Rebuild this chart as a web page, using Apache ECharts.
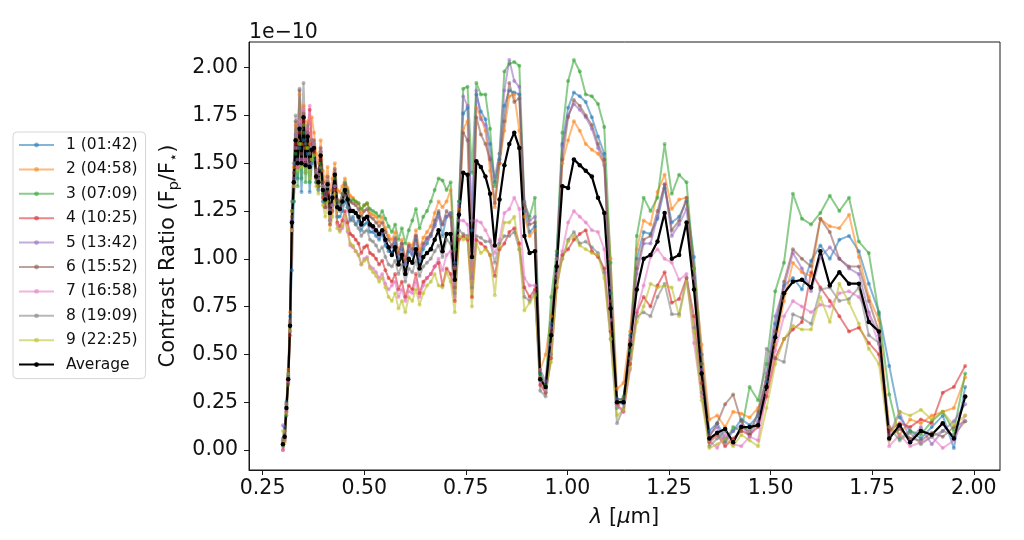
<!DOCTYPE html>
<html>
<head>
<meta charset="utf-8">
<title>Contrast ratio per epoch</title>
<script src="https://cdn.jsdelivr.net/npm/echarts@6.0.0/dist/echarts.min.js"></script>
<style>
    html, body { margin: 0; padding: 0; background: #fff; }
    #main { width: 1024px; height: 540px; }
</style>
</head>
<body>
<div id="main"></div>
<script>
// wavelength grid in um (one point per spectral bin)
const wavelengths = [
    0.3000, 0.3043, 0.3086, 0.3130, 0.3175, 0.3221, 0.3267, 0.3313, 0.3361, 0.3409,
    0.3457, 0.3507, 0.3557, 0.3608, 0.3659, 0.3711, 0.3764, 0.3818, 0.3873, 0.3928,
    0.3984, 0.4041, 0.4099, 0.4157, 0.4217, 0.4277, 0.4338, 0.4400, 0.4463, 0.4527,
    0.4591, 0.4657, 0.4723, 0.4791, 0.4859, 0.4929, 0.4999, 0.5070, 0.5143, 0.5216,
    0.5291, 0.5366, 0.5443, 0.5521, 0.5600, 0.5680, 0.5761, 0.5843, 0.5927, 0.6011,
    0.6097, 0.6184, 0.6273, 0.6362, 0.6453, 0.6545, 0.6639, 0.6734, 0.6830, 0.6927,
    0.7026, 0.7127, 0.7229, 0.7332, 0.7437, 0.7543, 0.7651, 0.7760, 0.7871, 0.7983,
    0.8097, 0.8213, 0.8330, 0.8449, 0.8570, 0.8692, 0.8817, 0.8942, 0.9070, 0.9200,
    0.9331, 0.9464, 0.9600, 0.9737, 0.9876, 1.0017, 1.0160, 1.0305, 1.0452, 1.0602,
    1.0753, 1.0907, 1.1063, 1.1221, 1.1381, 1.1544, 1.1708, 1.1876, 1.2045, 1.2217,
    1.2392, 1.2569, 1.2749, 1.2931, 1.3115, 1.3303, 1.3493, 1.3686, 1.3881, 1.4079,
    1.4280, 1.4484, 1.4691, 1.4901, 1.5114, 1.5330, 1.5549, 1.5771, 1.5996, 1.6225,
    1.6457, 1.6692, 1.6930, 1.7172, 1.7417, 1.7666, 1.7919, 1.8175, 1.8434, 1.8698,
    1.8965, 1.9236, 1.9510, 1.9789
];

// contrast ratio, in units of 1e-10
const s1 = [
    0.06,0.12,0.25,0.40,0.70,0.94,1.30,1.50,1.42,1.58, 1.35,1.62,1.45,1.55,1.35,1.50,1.52,1.40,1.36,1.47,
    1.30,1.27,1.35,1.20,1.28,1.38,1.22,1.22,1.25,1.30, 1.27,1.20,1.22,1.18,1.20,1.15,1.18,1.19,1.14,1.14,
    1.12,1.10,1.13,1.07,1.04,1.03,1.08,1.00,1.05,0.97, 1.04,1.02,1.10,0.99,1.05,1.08,1.12,1.18,1.24,1.12,
    1.22,1.24,0.98,1.30,1.76,1.79,1.15,1.86,1.77,1.73, 1.60,1.40,1.52,1.80,1.88,1.87,1.86,1.25,1.14,1.17,
    0.40,0.32,0.66,1.02,1.60,1.79,1.87,1.85,1.82,1.74, 1.64,1.55,0.82,0.27,0.26,0.60,1.00,1.14,1.13,1.21,
    1.37,1.19,1.22,1.30,1.01,0.50,0.10,0.14,0.06,0.10, 0.16,0.13,0.18,0.36,0.66,0.86,0.90,0.84,0.99,1.07,
    1.00,1.10,1.12,1.04,0.87,0.72,0.44,0.17,0.10,0.06, 0.12,0.18,0.01,0.33
];
const s2 = [
    0.05,0.10,0.24,0.42,0.72,1.25,1.48,1.70,1.62,1.86, 1.60,1.80,1.58,1.72,1.60,1.74,1.66,1.55,1.50,1.62,
    1.46,1.40,1.48,1.35,1.42,1.50,1.36,1.35,1.38,1.42, 1.37,1.33,1.32,1.30,1.29,1.24,1.28,1.29,1.24,1.23,
    1.22,1.19,1.22,1.16,1.12,1.10,1.14,1.04,1.10,1.00, 1.08,1.07,1.15,1.05,1.11,1.14,1.17,1.24,1.30,1.27,
    1.30,1.36,0.95,1.26,1.68,1.72,0.95,1.79,1.74,1.67, 1.46,1.27,1.50,1.67,1.85,1.86,1.67,1.22,1.12,1.15,
    0.42,0.50,0.70,1.00,1.50,1.62,1.72,1.67,1.60,1.57, 1.55,1.50,1.00,0.32,0.35,0.62,1.05,1.20,1.18,1.35,
    1.44,1.26,1.31,1.32,0.95,0.55,0.16,0.18,0.12,0.20, 0.19,0.17,0.22,0.30,0.55,0.78,0.98,0.93,0.91,1.21,
    1.17,1.16,1.23,1.01,0.80,0.68,0.12,0.08,0.16,0.14, 0.18,0.20,0.22,0.38
];
const s3 = [
    0.02,0.06,0.18,0.34,0.62,1.25,1.30,1.55,1.38,1.60, 1.42,1.66,1.40,1.58,1.40,1.52,1.54,1.40,1.38,1.50,
    1.34,1.30,1.38,1.24,1.33,1.42,1.30,1.29,1.34,1.40, 1.36,1.30,1.31,1.30,1.29,1.26,1.28,1.29,1.26,1.25,
    1.24,1.22,1.25,1.21,1.17,1.14,1.18,1.10,1.16,1.08, 1.15,1.20,1.26,1.16,1.22,1.25,1.30,1.36,1.42,1.41,
    1.36,1.40,1.05,1.30,1.89,1.90,1.45,1.92,1.86,1.86, 1.68,1.38,1.55,1.98,2.02,2.03,2.01,1.29,1.22,1.32,
    0.40,0.34,0.80,1.04,1.66,1.93,2.04,1.98,1.86,1.85, 1.81,1.69,0.98,0.22,0.28,0.52,1.12,1.32,1.25,1.32,
    1.60,1.34,1.44,1.40,0.95,0.45,0.05,0.09,0.04,0.12, 0.10,0.33,0.26,0.45,0.83,0.98,1.34,1.21,1.18,1.24,
    1.33,1.25,1.32,1.09,1.03,0.71,0.29,0.06,0.10,0.08, 0.15,0.20,0.10,0.40
];
const s4 = [
    0.00,0.05,0.20,0.35,0.60,1.15,1.40,1.60,1.48,1.66, 1.52,1.72,1.50,1.66,1.78,1.60,1.56,1.42,1.38,1.52,
    1.32,1.27,1.34,1.18,1.25,1.36,1.19,1.17,1.20,1.25, 1.19,1.13,1.12,1.10,1.08,1.03,1.06,1.07,1.03,1.02,
    1.00,0.97,0.99,0.94,0.90,0.88,0.92,0.84,0.88,0.80, 0.86,0.84,0.92,0.82,0.88,0.90,0.92,0.96,0.98,0.86,
    0.95,0.92,0.78,1.10,1.12,1.10,0.80,1.10,1.08,1.06, 1.02,0.91,1.05,1.08,1.14,1.16,1.08,0.85,0.80,0.84,
    0.34,0.30,0.48,0.85,1.02,1.05,1.10,1.13,1.15,1.04, 1.01,0.95,0.62,0.24,0.20,0.45,0.72,0.80,0.75,0.86,
    0.93,0.77,0.79,0.90,0.70,0.35,0.04,0.08,0.02,0.06, 0.10,0.08,0.12,0.28,0.48,0.58,0.63,0.67,0.93,0.85,
    0.78,0.70,0.62,0.64,0.56,0.50,0.10,0.14,0.12,0.16, 0.14,0.30,0.33,0.44
];
const s5 = [
    0.13,0.10,0.23,0.38,0.66,1.20,1.42,1.65,1.52,1.70, 1.52,1.74,1.50,1.66,1.50,1.58,1.60,1.45,1.42,1.56,
    1.38,1.33,1.40,1.26,1.33,1.45,1.28,1.27,1.31,1.36, 1.31,1.26,1.25,1.24,1.22,1.18,1.21,1.22,1.17,1.16,
    1.14,1.12,1.14,1.09,1.06,1.06,1.10,1.02,1.08,0.97, 1.06,1.03,1.12,1.01,1.07,1.10,1.12,1.17,1.22,1.18,
    1.22,1.24,0.96,1.28,1.85,1.80,1.20,1.88,1.73,1.70, 1.53,1.43,1.55,1.88,2.04,1.93,1.90,1.30,1.20,1.22,
    0.42,0.36,0.64,1.00,1.59,1.75,1.81,1.78,1.74,1.68, 1.58,1.49,0.85,0.25,0.24,0.58,0.92,1.08,1.08,1.22,
    1.39,1.12,1.18,1.26,0.90,0.42,0.08,0.12,0.04,0.10, 0.13,0.07,0.15,0.40,0.70,0.85,1.03,0.95,0.83,1.01,
    1.06,1.00,0.95,0.92,0.72,0.60,0.08,0.20,0.05,0.12, 0.03,0.10,0.15,0.24
];
const s6 = [
    0.04,0.08,0.21,0.39,0.67,1.22,1.45,1.72,1.58,1.88, 1.55,1.76,1.52,1.68,1.52,1.62,1.62,1.47,1.44,1.58,
    1.40,1.35,1.43,1.28,1.36,1.47,1.31,1.30,1.34,1.39, 1.35,1.30,1.29,1.28,1.26,1.22,1.25,1.26,1.22,1.21,
    1.19,1.17,1.19,1.14,1.10,1.07,1.11,1.03,1.08,0.99, 1.07,1.05,1.12,1.02,1.08,1.11,1.13,1.20,1.25,1.18,
    1.25,1.22,0.85,1.24,1.66,1.62,0.90,1.74,1.65,1.60, 1.52,1.29,1.50,1.72,1.92,1.82,1.84,1.28,1.18,1.19,
    0.38,0.30,0.62,0.96,1.52,1.74,1.83,1.80,1.75,1.70, 1.60,1.52,0.78,0.26,0.27,0.57,0.95,1.10,1.12,1.25,
    1.39,1.15,1.20,1.32,0.90,0.45,0.07,0.14,0.24,0.29, 0.15,0.08,0.20,0.38,0.62,0.88,1.05,1.00,0.96,1.21,
    1.14,1.00,0.96,0.96,0.78,0.62,0.07,0.11,0.06,0.05, 0.09,0.07,0.12,0.15
];
const s7 = [
    0.00,0.06,0.20,0.36,0.62,1.15,1.38,1.58,1.48,1.72, 1.50,1.78,1.52,1.68,1.80,1.62,1.60,1.46,1.44,1.56,
    1.38,1.31,1.38,1.20,1.28,1.38,1.18,1.15,1.16,1.20, 1.14,1.07,1.06,1.04,1.02,0.97,1.00,1.01,0.96,0.95,
    0.93,0.90,0.92,0.87,0.84,0.86,0.88,0.80,0.84,0.78, 0.83,0.82,0.88,0.80,0.86,0.90,0.92,0.96,1.00,0.94,
    1.02,1.04,0.80,1.20,1.20,1.18,0.90,1.20,1.19,1.15, 1.10,1.03,1.10,1.24,1.26,1.32,1.26,0.90,0.86,0.86,
    0.36,0.31,0.55,0.92,1.04,1.19,1.25,1.22,1.19,1.15, 1.14,1.05,0.68,0.23,0.20,0.42,0.73,0.86,1.01,1.05,
    1.00,0.98,0.89,0.92,0.56,0.28,0.05,0.01,0.08,0.03, 0.02,0.07,0.05,0.30,0.52,0.70,0.78,0.75,0.72,0.76,
    0.75,0.82,0.83,0.80,0.71,0.55,0.02,0.08,0.02,0.04, 0.07,0.01,0.05,0.18
];
const s8 = [
    0.05,0.09,0.24,0.38,0.68,1.30,1.50,1.75,1.62,1.89, 1.68,1.92,1.60,1.70,1.55,1.62,1.60,1.45,1.42,1.56,
    1.38,1.32,1.40,1.25,1.32,1.44,1.27,1.25,1.28,1.33, 1.27,1.21,1.20,1.18,1.16,1.12,1.14,1.15,1.10,1.09,
    1.07,1.04,1.06,1.01,0.97,0.96,0.99,0.92,0.97,0.88, 0.95,0.93,0.99,0.91,0.96,0.98,1.00,1.04,1.07,1.01,
    1.10,1.08,0.82,1.15,1.13,1.12,0.85,1.12,1.11,1.09, 1.09,0.98,1.08,1.12,1.12,1.14,1.05,0.80,0.78,0.82,
    0.31,0.28,0.50,0.90,1.00,1.10,1.14,1.08,1.09,1.06, 1.03,0.93,0.58,0.14,0.22,0.48,0.70,0.72,0.70,0.80,
    0.87,0.71,0.71,0.90,0.64,0.30,0.02,0.06,0.10,0.05, 0.12,0.10,0.18,0.53,0.48,0.46,0.71,0.69,0.66,0.84,
    0.85,0.78,0.79,0.85,0.60,0.56,0.12,0.05,0.09,0.03, 0.07,0.10,0.08,0.15
];
const s9 = [
    0.10,0.04,0.19,0.40,0.63,1.15,1.38,1.62,1.46,1.60, 1.48,1.70,1.45,1.58,1.42,1.52,1.54,1.38,1.34,1.48,
    1.28,1.22,1.30,1.15,1.22,1.34,1.16,1.14,1.17,1.22, 1.15,1.08,1.07,1.04,1.02,0.97,0.99,1.00,0.95,0.93,
    0.91,0.88,0.90,0.85,0.80,0.78,0.82,0.74,0.78,0.72, 0.80,0.78,0.84,0.76,0.82,0.86,0.88,0.92,0.86,0.85,
    0.93,0.88,0.72,1.12,1.10,1.11,0.75,1.08,1.03,1.05, 1.02,0.81,1.06,1.19,1.19,1.22,1.05,0.73,0.77,0.81,
    0.38,0.32,0.46,0.86,1.00,1.09,1.12,1.07,1.05,1.03, 1.02,0.90,0.58,0.18,0.21,0.43,0.67,0.75,0.87,0.85,
    0.86,0.85,0.70,0.88,0.62,0.26,0.01,0.03,0.06,0.02, 0.08,0.05,0.02,0.22,0.45,0.58,0.65,0.63,0.63,0.80,
    0.67,0.87,0.77,0.66,0.53,0.45,0.05,0.20,0.18,0.21, 0.16,0.20,0.13,0.18
];
const average = [
    0.03,0.07,0.22,0.37,0.65,1.19,1.40,1.62,1.50,1.68, 1.50,1.74,1.49,1.64,1.48,1.57,1.58,1.43,1.40,1.54,
    1.36,1.31,1.39,1.24,1.32,1.44,1.27,1.26,1.30,1.36, 1.31,1.25,1.25,1.24,1.22,1.18,1.21,1.22,1.18,1.17,
    1.15,1.13,1.15,1.10,1.06,1.02,1.06,0.97,1.02,0.92, 1.00,0.98,1.05,0.95,1.01,1.03,1.05,1.10,1.15,1.04,
    1.13,1.13,0.89,1.23,1.45,1.44,1.01,1.51,1.48,1.43, 1.34,1.07,1.31,1.49,1.60,1.66,1.58,1.12,1.03,1.04,
    0.37,0.33,0.60,0.96,1.38,1.37,1.52,1.49,1.46,1.43, 1.32,1.24,0.74,0.25,0.25,0.55,0.84,1.00,1.02,1.09,
    1.24,1.00,1.02,1.19,0.84,0.40,0.06,0.09,0.11,0.04, 0.12,0.12,0.13,0.33,0.59,0.82,0.88,0.89,0.85,1.04,
    0.86,0.93,0.87,0.87,0.67,0.62,0.06,0.13,0.04,0.10, 0.08,0.14,0.06,0.28
];

const epochNames = ['1 (01:42)', '2 (04:58)', '3 (07:09)', '4 (10:25)', '5 (13:42)',
                    '6 (15:52)', '7 (16:58)', '8 (19:09)', '9 (22:25)'];
const epochColors = ['#1f77b4', '#ff7f0e', '#2ca02c', '#d62728', '#9467bd',
                     '#8c564b', '#e377c2', '#7f7f7f', '#bcbd22'];
const xTicks = [0.25, 0.50, 0.75, 1.00, 1.25, 1.50, 1.75, 2.00];
const yTicks = [0, 0.25, 0.50, 0.75, 1.00, 1.25, 1.50, 1.75, 2.00];

const FONT = 'DejaVu Sans';
const INK = '#111';

// pair every value with its wavelength
function toPoints(vals) {
    return wavelengths.map((w, i) => [w, vals[i]]);
}

const epochs = [s1, s2, s3, s4, s5, s6, s7, s8, s9];
const series = epochs.map((vals, k) => ({
    name: epochNames[k],
    type: 'line',
    data: toPoints(vals),
    symbol: 'circle',
    symbolSize: 4,
    lineStyle: { width: 2, color: epochColors[k], opacity: 0.55 },
    itemStyle: { color: epochColors[k], opacity: 0.55 },
    emphasis: { disabled: true },
    silent: true
}));
// black average goes on top
series.push({
    name: 'Average',
    type: 'line',
    data: toPoints(average),
    symbol: 'circle',
    symbolSize: 4.5,
    lineStyle: { width: 2.2, color: '#000' },
    itemStyle: { color: '#000' },
    emphasis: { disabled: true },
    silent: true
});

const chart = echarts.init(document.getElementById('main'));
chart.setOption({
    animation: false,
    backgroundColor: '#fff',
    grid: {
        left: 249, right: 24, top: 42, bottom: 70,
        show: true, borderColor: '#1a1a1a', borderWidth: 1
    },
    legend: {
        orient: 'vertical',
        left: 13, top: 132,
        itemWidth: 35, itemHeight: 6, itemGap: 8.4,
        padding: [5, 8, 6, 5],
        borderColor: '#d6d6d6', borderWidth: 1, borderRadius: 4,
        backgroundColor: '#fff',
        textStyle: { fontFamily: FONT, fontSize: 15.5, color: INK, lineHeight: 16, padding: [0, 0, 0, 7] },
        data: epochNames.concat(['Average'])
    },
    xAxis: {
        type: 'value',
        min: 0.2165, max: 2.0645,
        splitLine: { show: false },
        axisLine: { show: true, onZero: false, lineStyle: { color: '#1a1a1a', width: 1 } },
        axisTick: { show: true, length: 5, customValues: xTicks, lineStyle: { color: '#1a1a1a' } },
        axisLabel: {
            customValues: xTicks,
            formatter: v => v.toFixed(2),
            fontFamily: FONT, fontSize: 20.5, color: INK, margin: 8
        },
        name: '{i|λ} [{i|μ}m]',
        nameLocation: 'middle',
        nameGap: 37,
        nameTextStyle: {
            fontFamily: FONT, fontSize: 21, color: INK,
            rich: { i: { fontFamily: FONT, fontSize: 21, fontStyle: 'italic', color: INK } }
        }
    },
    yAxis: {
        type: 'value',
        min: -0.1045, max: 2.134,
        splitLine: { show: false },
        axisLine: { show: true, onZero: false, lineStyle: { color: '#1a1a1a', width: 1 } },
        axisTick: { show: true, length: 5, customValues: yTicks, lineStyle: { color: '#1a1a1a' } },
        axisLabel: {
            customValues: yTicks,
            formatter: v => v.toFixed(2),
            fontFamily: FONT, fontSize: 20.5, color: INK, margin: 11
        },
        name: '{t|Contrast Ratio (F}{s|p}{t|/F}{s|⋆}{t|)}',
        nameLocation: 'middle',
        nameGap: 60,
        nameTextStyle: {
            rich: {
                t: { fontFamily: FONT, fontSize: 21, color: INK, lineHeight: 26 },
                s: { fontFamily: FONT, fontSize: 14.5, color: INK, lineHeight: 14, verticalAlign: 'bottom' }
            }
        }
    },
    // offset text of the y axis
    graphic: [{
        type: 'text',
        left: 249, top: 22,
        style: { text: '1e\u221210', font: '20.5px "DejaVu Sans"', fill: INK }
    }],
    series: series
});
</script>
</body>
</html>
